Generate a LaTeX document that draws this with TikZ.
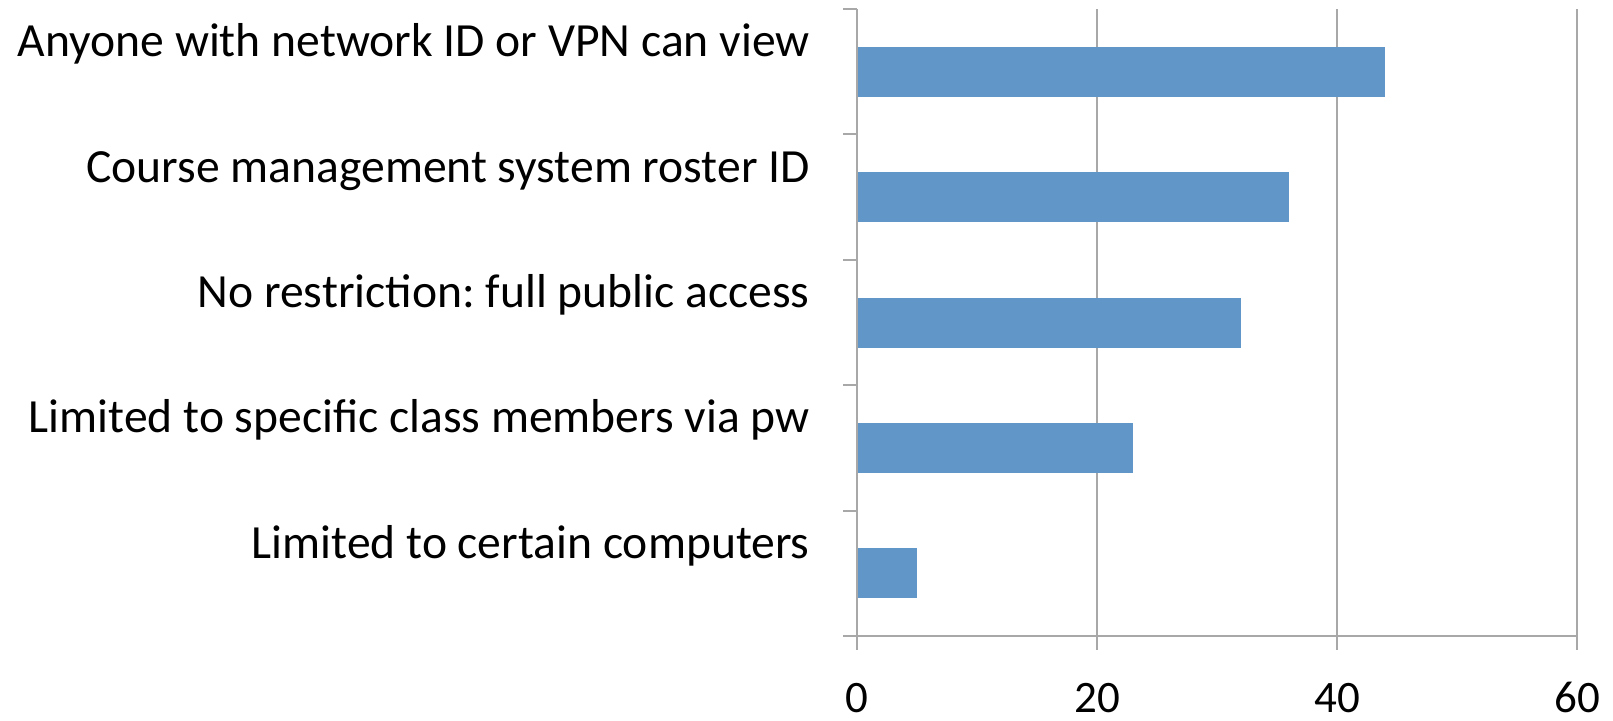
\documentclass[tikz,border=0pt]{standalone}
\usepackage{fontspec}
\setmainfont{Carlito}
\usetikzlibrary{positioning}
\definecolor{barblue}{HTML}{6096C8}
\definecolor{gridgray}{HTML}{A8A8A8}
\tikzset{
  gridline/.style={draw=gridgray, line width=1pt},
  bar/.style={fill=barblue},
  catlabel/.style={anchor=base east, inner sep=0pt, font=\fontsize{23.8}{28}\selectfont},
  ticklabel/.style={anchor=base, inner sep=0pt, font=\fontsize{22.5}{27}\selectfont},
}
\frenchspacing
\begin{document}
\begin{tikzpicture}[x=0.5pt, y=-0.5pt]
    \useasboundingbox (0,0) rectangle (1613,720);

    % grid and axes
    \foreach \v in {20,40,60}
      \draw[gridline] (857+12*\v,9) -- (857+12*\v,650);
    \draw[gridline] (857,9) -- (857,650);
    \draw[gridline] (843,636) -- (1576,636);
    \foreach \i in {0,...,5}
      \draw[gridline] (843,9+125.4*\i) -- (857,9+125.4*\i);

    % bars and labels
    \foreach \v/\txt [count=\i] in {
        44/Anyone with network ID or VPN can view,
        36/Course management system roster ID,
        32/No restriction: full public access,
        23/Limited to specific class members via pw,
        5/Limited to certain computers}{
      \pgfmathsetmacro{\c}{9+125.4*(\i-0.5)}
      \fill[bar] (858,\c-25) rectangle (857+12*\v,\c+25);
      \node[catlabel] (cat\i) at (810,\c-15) {\txt};
    }

    \foreach \v in {0,20,40,60}
      \node[ticklabel] (tick\v) at (857+12*\v,712) {\v};
  \end{tikzpicture}
\end{document}
